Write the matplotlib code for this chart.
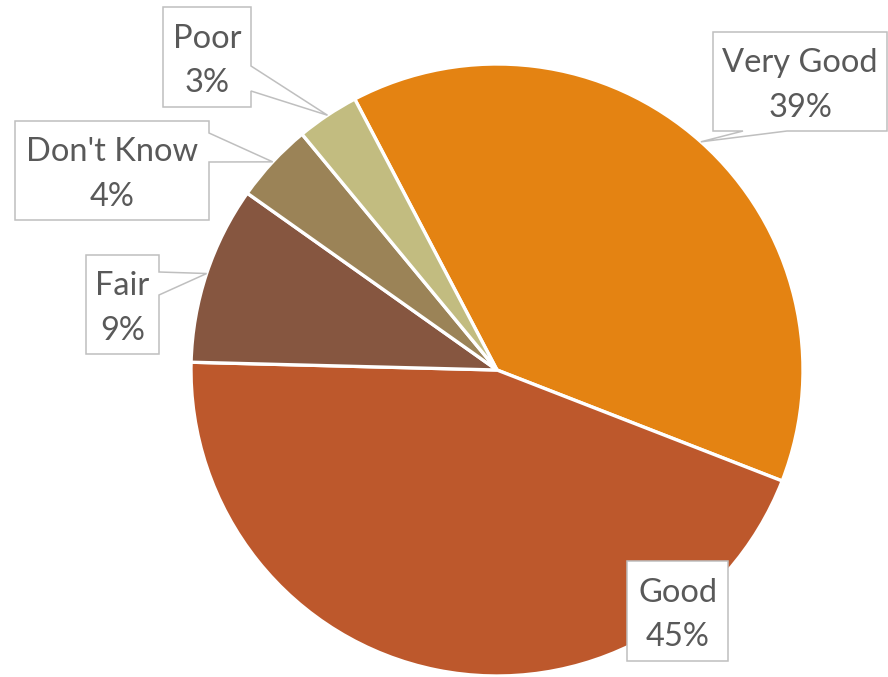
import matplotlib.pyplot as plt
import numpy as np
from matplotlib.patches import Polygon

plt.rcParams['font.family'] = ['Lato', 'DejaVu Sans']

# data (clockwise, starting from Very Good)
labels = ["Very Good", "Good", "Fair", "Don't Know", "Poor"]
values = [38.6, 44.5, 9.4, 4.2, 3.3]
pct_text = ["39%", "45%", "9%", "4%", "3%"]
colors = ["#E48312", "#BD582C", "#865640", "#9B8357", "#C2BC80"]

W, H = 888, 677

# label boxes in image pixels: (left, top, right, bottom), pointer side
boxes = {
    "Very Good": ((713, 32, 887, 131), "bottom", (743, 787)),
    "Good": ((627, 561, 728, 661), None, None),
    "Fair": ((86, 255, 159, 354), "right", (272, 295)),
    "Don't Know": ((15, 121, 209, 220), "right", (133, 162)),
    "Poor": ((163, 7, 251, 107), "right", (66, 91)),
}

fig = plt.figure(figsize=(W / 100, H / 100), dpi=100)
ax = fig.add_axes([0, 0, 1, 1])

cx, cy, r = 497, H - 370, 306
wedges, _ = ax.pie(values, colors=colors, startangle=117.7, counterclock=False,
                   center=(cx, cy), radius=r,
                   wedgeprops=dict(edgecolor='white', linewidth=2.4))
ax.set_xlim(0, W)
ax.set_ylim(0, H)
ax.set_aspect('equal')
ax.axis('off')

for w, lab, pt in zip(wedges, labels, pct_text):
    (x0, t, x1, b), side, base = boxes[lab]
    y0, y1 = H - b, H - t  # flip to data coords
    mid = np.radians((w.theta1 + w.theta2) / 2)
    tip = (cx + r * np.cos(mid), cy + r * np.sin(mid))
    if side == "right":
        ba, bb = H - base[0], H - base[1]
        pts = [(x0, y1), (x1, y1), (x1, ba), tip, (x1, bb), (x1, y0), (x0, y0)]
    elif side == "bottom":
        pts = [(x0, y1), (x1, y1), (x1, y0), (base[1], y0), tip, (base[0], y0), (x0, y0)]
    else:
        pts = [(x0, y1), (x1, y1), (x1, y0), (x0, y0)]
    ax.add_patch(Polygon(pts, closed=True, facecolor='white', edgecolor='#BFBFBF',
                         linewidth=1.1, zorder=5))
    ax.text((x0 + x1) / 2, (y0 + y1) / 2 - 4, lab + "\n" + pt, ha='center', va='center',
            fontsize=23.5, color='#595959', linespacing=1.6, zorder=6)

fig.savefig("out.png", dpi=100)
